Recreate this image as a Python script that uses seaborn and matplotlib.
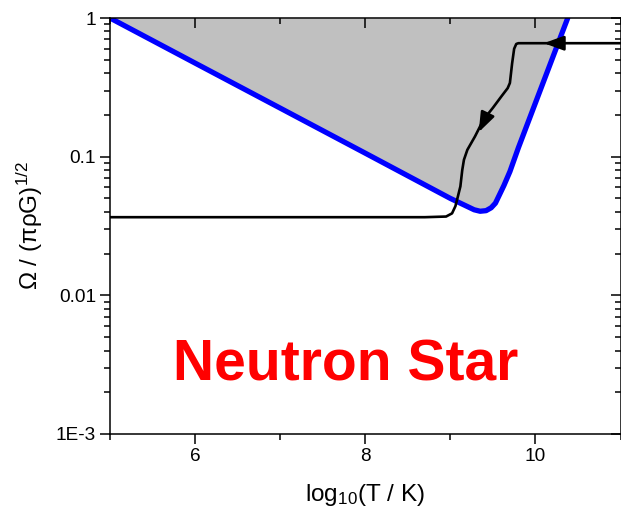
import numpy as np
import pandas as pd
import matplotlib
matplotlib.use("Agg")
import matplotlib.pyplot as plt
import seaborn as sns
from matplotlib.ticker import FixedLocator, FixedFormatter, LogLocator, NullFormatter

# ---- data ----
window_logT = [5.0, 6.0, 7.0, 8.0, 8.5, 9.0, 9.2, 9.28, 9.35, 9.42, 9.48, 9.53, 9.58, 9.63,
               9.7, 9.8, 10.0, 10.2, 10.38]
window_omega = [1.0, 0.473, 0.224, 0.106, 0.0728, 0.050, 0.0437, 0.0414, 0.0404, 0.0408, 0.0428,
                0.0462, 0.0535, 0.0620, 0.0780, 0.116, 0.244, 0.513, 1.0]

track_logT = [5.0, 8.7, 8.95, 9.02, 9.06, 9.09, 9.118, 9.14, 9.16, 9.2, 9.29, 9.39, 9.5, 9.6,
              9.674, 9.70, 9.726, 9.75, 9.775, 9.80, 11.0]
track_omega = [0.0366, 0.0366, 0.0370, 0.0390, 0.0440, 0.052, 0.061, 0.080, 0.095, 0.112, 0.140, 0.185,
               0.225, 0.272, 0.312, 0.34, 0.47, 0.60, 0.65, 0.658, 0.658]

arrow_tips = [(10.10, 0.658), (9.333, 0.150)]
arrow_tails = [(10.32, 0.658), (9.43, 0.199)]

x_ticks = [6, 8, 10]
x_minor = [5, 7, 9, 11]
x_tick_labels = ["6", "8", "10"]
y_ticks = [1e-3, 1e-2, 1e-1, 1]
y_minor = [m * 10.0 ** e for e in (-3, -2, -1) for m in range(2, 10)]
y_tick_labels = ["1E-3", "0.01", "0.1", "1"]

label_text = "Neutron Star"

# ---- style ----
sns.set_style("ticks")
plt.rcParams['font.family'] = ['Liberation Sans', 'DejaVu Sans']
plt.rcParams['mathtext.fontset'] = 'custom'
plt.rcParams['mathtext.rm'] = 'Liberation Sans'
plt.rcParams['mathtext.it'] = 'Liberation Sans:italic'
plt.rcParams['mathtext.default'] = 'regular'
plt.rcParams['text.color'] = 'black'
plt.rcParams['axes.labelcolor'] = 'black'
plt.rcParams['xtick.color'] = 'black'
plt.rcParams['ytick.color'] = 'black'

fig = plt.figure(figsize=(6.21, 5.07), dpi=100)
rect = [110 / 621, 1 - 434 / 507, 510.5 / 621, 416 / 507]
ax = fig.add_axes(rect)

win = pd.DataFrame({"logT": window_logT, "omega": window_omega})
trk = pd.DataFrame({"logT": track_logT, "omega": track_omega})

ax.fill_between(win["logT"], win["omega"], 1.0, color="#C0C0C0", lw=0, zorder=1)
sns.lineplot(data=win, x="logT", y="omega", ax=ax, color="#0000FF", lw=3.8,
             sort=False, estimator=None, zorder=3)
sns.lineplot(data=trk, x="logT", y="omega", ax=ax, color="black", lw=1.9,
             sort=False, estimator=None, zorder=4)

for tip, tail in zip(arrow_tips, arrow_tails):
    ax.annotate("", xy=tip, xytext=tail,
                arrowprops=dict(arrowstyle="-|>,head_length=0.6,head_width=0.22",
                                mutation_scale=20, color="black", lw=1.9,
                                shrinkA=0, shrinkB=0), zorder=5)

ax.set_yscale("log")
ax.set_xlim(5, 11)
ax.set_ylim(1e-3, 1)
ax.set_xlabel("")
ax.set_ylabel("")
ax.tick_params(which="both", left=False, bottom=False, top=False, right=False,
               labelleft=False, labelbottom=False)
for s in ax.spines.values():
    s.set_visible(False)

# overlay axes carrying frame, ticks, labels
ov = fig.add_axes(rect, frameon=True)
ov.patch.set_visible(False)
ov.set_yscale("log")
ov.set_xlim(5, 11)
ov.set_ylim(1e-3, 1)
ov.xaxis.set_major_locator(FixedLocator(x_ticks))
ov.xaxis.set_major_formatter(FixedFormatter(x_tick_labels))
ov.xaxis.set_minor_locator(FixedLocator(x_minor))
ov.yaxis.set_major_locator(FixedLocator(y_ticks))
ov.yaxis.set_major_formatter(FixedFormatter(y_tick_labels))
ov.yaxis.set_minor_locator(FixedLocator(y_minor))
ov.yaxis.set_minor_formatter(NullFormatter())
for s in ov.spines.values():
    s.set_visible(True)
    s.set_linewidth(1.1)
    s.set_color("black")

ov.tick_params(which="both", width=1.1, color="black", labelcolor="black",
               left=True, bottom=True, top=True, right=True,
               labelleft=True, labelbottom=True, labeltop=False, labelright=False)
ov.tick_params(which="major", length=7, labelsize=13.7, pad=3)
ov.tick_params(which="minor", length=4)
ov.xaxis.set_tick_params(which="both", direction="out")
ov.yaxis.set_tick_params(which="both", direction="out")
# inward mirrored ticks on top/right
for t in ov.xaxis.get_major_ticks() + ov.xaxis.get_minor_ticks():
    t.tick2line.set_marker(matplotlib.lines.TICKDOWN)
for t in ov.yaxis.get_major_ticks() + ov.yaxis.get_minor_ticks():
    t.tick2line.set_marker(matplotlib.lines.TICKLEFT)

ov.set_xlabel("log$_{10}$(T / K)", fontsize=17.5, labelpad=12)
ov.set_ylabel("Ω / (πρG)$^{1/2}$", fontsize=17.5, labelpad=8)

ax.text(7.774, 0.00242, label_text, color="#FF0000", fontsize=41, fontweight="bold",
        ha="center", va="baseline", zorder=7)

fig.savefig("out.png", dpi=100)
